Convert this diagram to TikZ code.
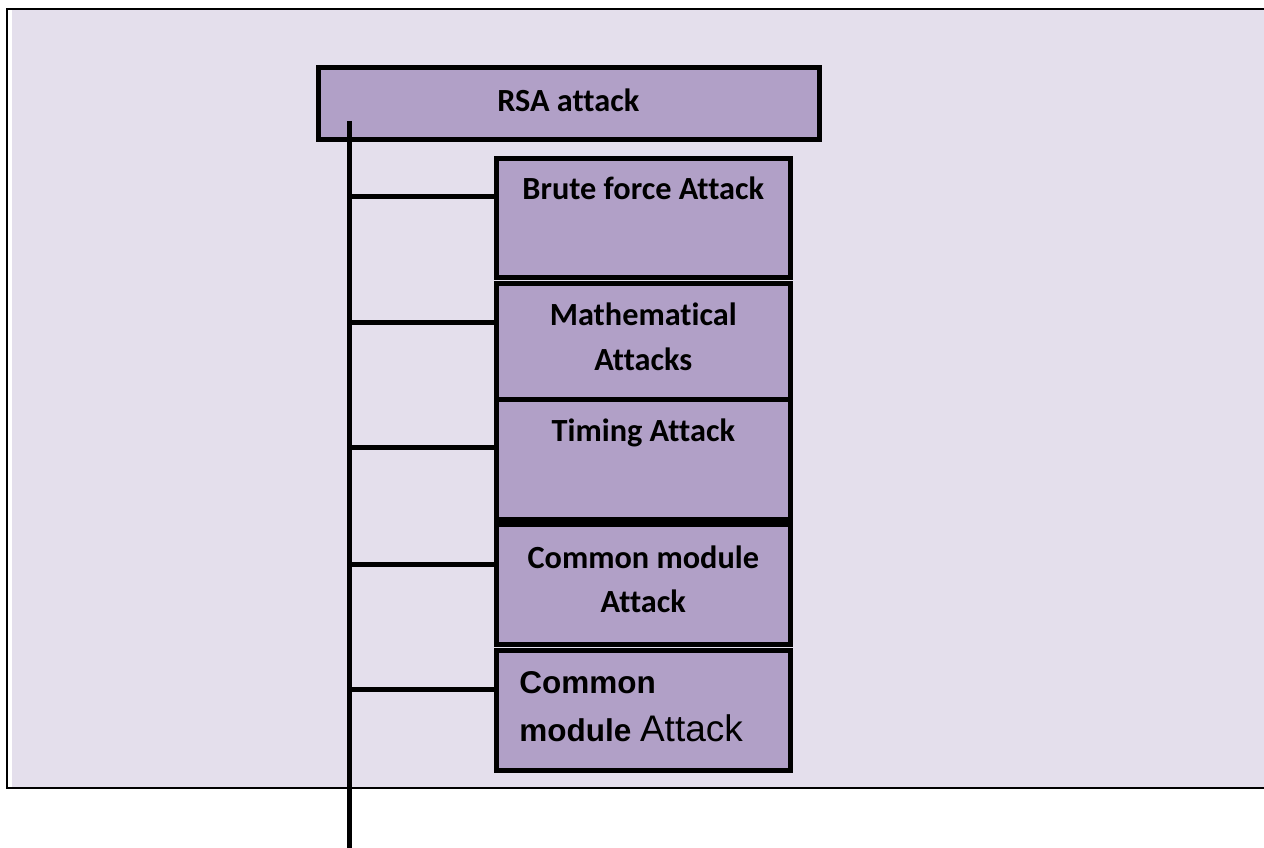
\documentclass[tikz,border=0pt]{standalone}
\usepackage{fontspec}
\setmainfont{Carlito}[Ligatures=NoCommon]
\newfontfamily\arialfam{Liberation Sans}
\definecolor{panelfill}{HTML}{E4DFEC}
\definecolor{boxfill}{HTML}{B1A0C7}
\begin{document}
\begin{tikzpicture}[x=1pt,y=-1pt,
  box/.style={draw=black, line width=5pt, fill=boxfill, inner sep=0pt, outer sep=0pt},
  link/.style={draw=black, line width=5pt},
  trunkline/.style={draw=black, line width=5.5pt},
  lbl/.style={inner sep=0pt, outer sep=0pt, anchor=base, font=\fontsize{32.3}{38}\selectfont\bfseries},
  lblarial/.style={inner sep=0pt, outer sep=0pt, anchor=base west, font=\arialfam\fontsize{31.5}{37}\selectfont\bfseries}
]
\useasboundingbox (0,0) rectangle (1264,848);

% background panel
\fill[panelfill] (12,10) rectangle (1264,787);
\draw[line width=2.2pt] (1264,9) -- (7,9) -- (7,788) -- (1264,788);

% boxes
\node[box, minimum width=501.3pt, minimum height=72.3pt] (rsa) at (568.65,103.65) {};
\node[box, minimum width=293.5pt, minimum height=119pt]   (brute)  at (643.25,218) {};
\node[box, minimum width=293.5pt, minimum height=116pt]   (math)   at (643.25,341.5) {};
\node[box, minimum width=293.5pt, minimum height=119.5pt] (timing) at (643.25,459.25) {};
\node[box, minimum width=293.5pt, minimum height=120pt]   (cm)     at (643.25,584.5) {};
\node[box, minimum width=293.5pt, minimum height=120.8pt] (cmtwo)  at (643.25,710.4) {};

% trunk
\coordinate (trunktop) at (349.5,121);
\coordinate (trunkend) at (349.5,848);
\draw[trunkline] (trunktop) -- (trunkend);

% branches
\path ([yshift=-37.5pt]brute.north west) coordinate (jb);
\path ([yshift=-39pt]math.north west) coordinate (jm);
\path ([yshift=-48pt]timing.north west) coordinate (jt);
\path ([yshift=-39.5pt]cm.north west) coordinate (jc);
\path ([yshift=-39.5pt]cmtwo.north west) coordinate (jd);
\foreach \j in {jb,jm,jt,jc,jd}
  \draw[link] (trunktop |- \j) -- (\j);

% labels
\node[lbl] (trsa) at (568.3,111.7) {RSA attack};
\node[lbl] (tbrute) at (643.3,199.3) {Brute force Attack};
\node[lbl] (tmath1) at (643.3,325.7) {Mathematical};
\node[lbl] (tmath2) at (643.3,370) {Attacks};
\node[lbl] (ttiming) at (643.3,441.7) {Timing Attack};
\node[lbl] (tcm1) at (643.3,568.3) {Common module};
\node[lbl] (tcm2) at (643.3,612.7) {Attack};
\node[lblarial] (tcmtwo1) at (519.3,693) {Common};
\node[lblarial] (tcmtwo2) at (519.3,741) {module {\mdseries\fontsize{37}{42}\selectfont Attack}};
\end{tikzpicture}
\end{document}
